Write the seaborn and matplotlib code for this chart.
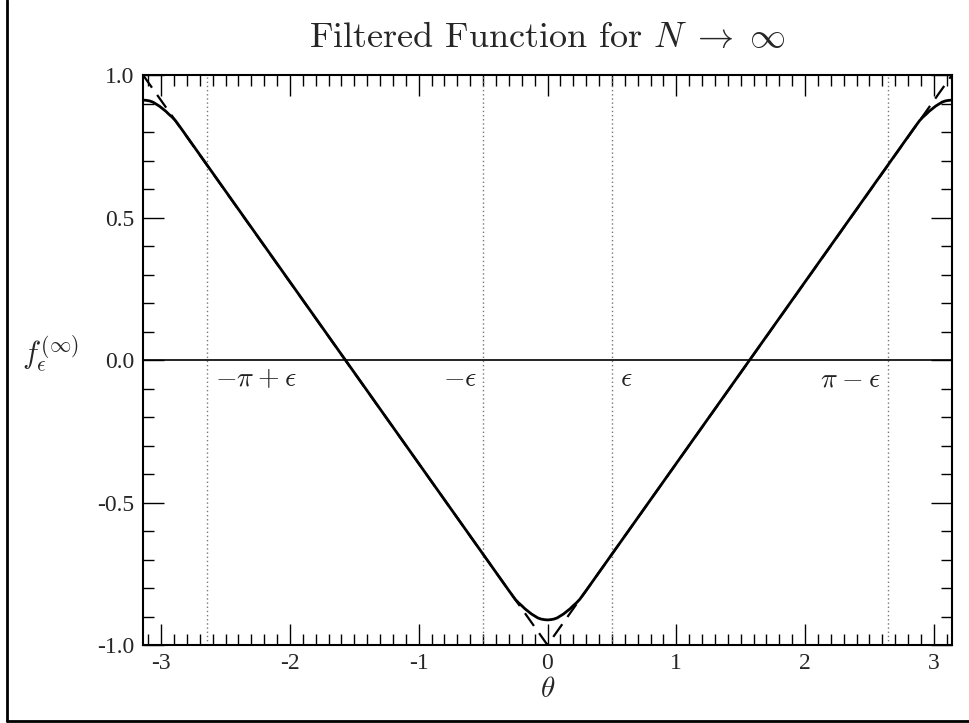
import numpy as np
import pandas as pd
import matplotlib
matplotlib.use("Agg")
import matplotlib.pyplot as plt
import seaborn as sns
from matplotlib.ticker import MultipleLocator
from matplotlib.lines import Line2D

# ---- data ----
PI = 3.14159
theta_solid = [-3.1416, -3.115, -3.09, -3.065, -3.04, -3.015, -2.99, -2.965, -2.94, -2.915, -2.89, -2.84,
               -0.30, -0.25, -0.225, -0.20, -0.175, -0.15, -0.125, -0.10, -0.075, -0.05, -0.025, 0.0,
               0.025, 0.05, 0.075, 0.10, 0.125, 0.15, 0.175, 0.20, 0.225, 0.25, 0.30,
               2.84, 2.89, 2.915, 2.94, 2.965, 2.99, 3.015, 3.04, 3.065, 3.09, 3.115, 3.1416]
f_solid = [0.912, 0.911, 0.909, 0.905, 0.898, 0.891, 0.882, 0.873, 0.862, 0.852, 0.840, 0.809,
           -0.809, -0.840, -0.852, -0.862, -0.873, -0.882, -0.891, -0.898, -0.905, -0.909, -0.911, -0.912,
           -0.911, -0.909, -0.905, -0.898, -0.891, -0.882, -0.873, -0.862, -0.852, -0.840, -0.809,
           0.809, 0.840, 0.852, 0.862, 0.873, 0.882, 0.891, 0.898, 0.905, 0.909, 0.911, 0.912]
theta_dashed = [-3.1416, 0.0, 3.1416]
f_dashed = [1.0, -1.0, 1.0]
marker_x = [-2.6416, -0.5, 0.5, 2.6416]
marker_labels = [r"$-\pi\:+\:\epsilon$", r"$-\epsilon$", r"$\epsilon$", r"$\pi\:-\:\epsilon$"]
marker_align = ["left", "right", "left", "right"]
x_ticks = [-3, -2, -1, 0, 1, 2, 3]
y_ticks = [-1.0, -0.5, 0.0, 0.5, 1.0]
y_ticklabels = ["-1.0", "-0.5", "0.0", "0.5", "1.0"]

sns.set_theme(style="ticks")
plt.rcParams["font.family"] = ["Liberation Serif", "DejaVu Serif"]
plt.rcParams["mathtext.fontset"] = "cm"
plt.rcParams["axes.unicode_minus"] = False

fig = plt.figure(figsize=(9.69, 7.23), dpi=100)
ax = fig.add_axes([143 / 969, 1 - 645 / 723, (952 - 143) / 969, (645 - 75) / 723])

df_s = pd.DataFrame({"theta": theta_solid, "f": f_solid})
df_d = pd.DataFrame({"theta": theta_dashed, "f": f_dashed})

for xv in marker_x:
    ax.axvline(xv, color="#777777", lw=1.0, ls=(0, (1, 2)), zorder=1)
ax.axhline(0.0, color="black", lw=1.2, zorder=2)

sns.lineplot(data=df_d, x="theta", y="f", ax=ax, color="black", lw=1.6,
             sort=False, estimator=None, zorder=3)
ax.lines[-1].set_dashes([7, 4])
sns.lineplot(data=df_s, x="theta", y="f", ax=ax, color="black", lw=2.0,
             sort=False, estimator=None, zorder=4)

for xv, lab, ha in zip(marker_x, marker_labels, marker_align):
    off = 0.06 if ha == "left" else -0.05
    ax.text(xv + off, -0.025, lab, ha=ha, va="top", fontsize=20, color="#222222")

ax.set_xlim(-PI, PI)
ax.set_ylim(-1.0, 1.0)
ax.set_xticks(x_ticks)
ax.set_xticklabels([str(t) for t in x_ticks])
ax.set_yticks(y_ticks)
ax.set_yticklabels(y_ticklabels)
ax.xaxis.set_minor_locator(MultipleLocator(0.1))
ax.yaxis.set_minor_locator(MultipleLocator(0.1))
ax.tick_params(which="both", direction="in", top=True, right=True, color="black")
ax.tick_params(which="major", length=15, width=1.0, labelsize=17, pad=6)
ax.tick_params(which="minor", length=8, width=1.0)
for sp in ax.spines.values():
    sp.set_visible(True)
    sp.set_linewidth(1.5)
    sp.set_color("black")

ax.set_xlabel(r"$\theta$", fontsize=21, labelpad=2)
ax.set_ylabel(r"$f_\epsilon^{(\infty)}$", fontsize=22, rotation=0, va="center", ha="center")
ax.yaxis.set_label_coords(-0.114, 0.51)
ax.set_title(r"Filtered Function for $N\;\to\;\infty$", fontsize=26,
             family=["cmr10", "DejaVu Serif"], pad=20)

# figure frame (left and bottom visible in the reference)
fig.add_artist(Line2D([7 / 969, 7 / 969], [1 - 721 / 723, 1.0], transform=fig.transFigure,
                      color="black", lw=2))
fig.add_artist(Line2D([7 / 969, 1.0], [1 - 721 / 723, 1 - 721 / 723], transform=fig.transFigure,
                      color="black", lw=2))

fig.savefig("out.png", dpi=100)
